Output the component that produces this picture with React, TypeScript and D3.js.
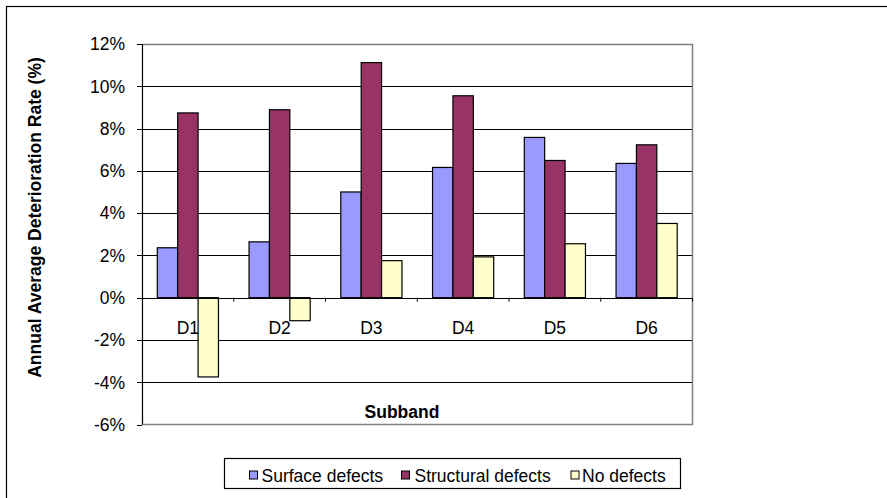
import React from "react";
import * as d3 from "d3";

const categories = ["D1", "D2", "D3", "D4", "D5", "D6"];
const seriesNames = ["Surface defects", "Structural defects", "No defects"];
const surface = [2.36, 2.64, 5.0, 6.16, 7.58, 6.35];
const structural = [8.74, 8.89, 11.12, 9.55, 6.49, 7.23];
const noDefects = [-3.75, -1.09, 1.75, 1.93, 2.55, 3.51];
const colors = ["#9999FF", "#993366", "#FFFFCC"];
const yTicks = [-6, -4, -2, 0, 2, 4, 6, 8, 10, 12];

const FONT = "'Liberation Sans', Arial, sans-serif";
const FS = 17.5;

export default function App() {
  const W = 887, H = 498;
  const left = 142, right = 692.5, top = 44, bottom = 424.5;
  const x = d3.scaleBand().domain(categories).range([left, right]).paddingInner(0).paddingOuter(0);
  const y = d3.scaleLinear().domain([-6, 12]).range([bottom, top]);
  const series = [surface, structural, noDefects];
  const bw = x.bandwidth();
  const barW = bw / 4.5;
  const pad = (bw - 3 * barW) / 2;
  const y0 = y(0);

  const legendItems = [
    { sx: 249.5, tx: 261.5 },
    { sx: 401.5, tx: 414.5 },
    { sx: 571, tx: 582 },
  ];

  return (
    <svg width={W} height={H} style={{ position: "absolute", left: 0, top: 0 }}>
      <rect x={0} y={0} width={W} height={H} fill="#fff" />
      <rect x={6.5} y={6.5} width={W + 10} height={H + 10} fill="none" stroke="#000" strokeWidth={1.2} />
      {/* gridlines */}
      {yTicks.filter((t) => t !== 12 && t !== -6).map((t) => (
        <line key={t} x1={left} x2={right} y1={Math.round(y(t)) + 0.5} y2={Math.round(y(t)) + 0.5} stroke="#000" strokeWidth={1} />
      ))}
      {/* plot border */}
      <path d={`M${left},${top + 0.5}H${right}V${bottom}H${left}`} fill="none" stroke="#808080" strokeWidth={1.5} />
      {/* bars */}
      {categories.map((c, i) => (
        <g key={c}>
          {series.map((s, k) => {
            const v = s[i];
            const bx = (x(c) as number) + pad + k * barW;
            const yy = y(Math.max(0, v));
            const h = Math.abs(y(v) - y0);
            return <rect key={k} x={bx} y={yy} width={barW} height={h} fill={colors[k]} stroke="#000" strokeWidth={1.2} />;
          })}
        </g>
      ))}
      {/* zero axis */}
      <line x1={left} x2={right} y1={Math.round(y0) + 0.5} y2={Math.round(y0) + 0.5} stroke="#000" strokeWidth={1.2} />
      {categories.map((c, i) => (
        <line key={"t" + i} x1={(x(c) as number) + bw} x2={(x(c) as number) + bw} y1={y0} y2={y0 + 4} stroke="#000" strokeWidth={1} />
      ))}
      {categories.map((c) => (
        <text key={"l" + c} x={(x(c) as number) + bw / 2} y={334} textAnchor="middle" fontFamily={FONT} fontSize={FS}>{c}</text>
      ))}
      {/* y axis */}
      <line x1={left + 0.5} x2={left + 0.5} y1={top} y2={bottom} stroke="#000" strokeWidth={1.2} />
      {yTicks.map((t) => (
        <g key={"y" + t}>
          <line x1={left - 5} x2={left} y1={Math.round(y(t)) + 0.5} y2={Math.round(y(t)) + 0.5} stroke="#000" strokeWidth={1} />
          <text x={125} y={y(t) + 6.3} textAnchor="end" fontFamily={FONT} fontSize={FS}>{t + "%"}</text>
        </g>
      ))}
      <text transform={`translate(41,217.5) rotate(-90)`} textAnchor="middle" fontFamily={FONT} fontSize={FS} fontWeight="bold">Annual Average Deterioration Rate (%)</text>
      <text x={402} y={417.5} textAnchor="middle" fontFamily={FONT} fontSize={FS} fontWeight="bold">Subband</text>
      {/* legend */}
      <rect x={224.5} y={458.5} width={456} height={30} fill="#fff" stroke="#000" strokeWidth={1.2} />
      {seriesNames.map((n, k) => (
        <g key={n}>
          <rect x={legendItems[k].sx} y={471} width={8} height={8} fill={colors[k]} stroke="#000" strokeWidth={1} />
          <text x={legendItems[k].tx} y={482} fontFamily={FONT} fontSize={FS}>{n}</text>
        </g>
      ))}
    </svg>
  );
}
